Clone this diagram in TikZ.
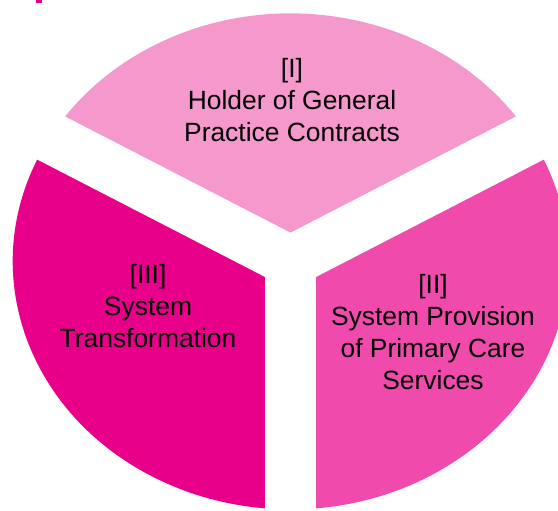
\documentclass[tikz,border=0pt]{standalone}
\usepackage{fontspec}
\setmainfont{Liberation Sans}
\usepackage{tikz}

\definecolor{holderpink}{RGB}{245,152,204}
\definecolor{transmagenta}{RGB}{232,0,138}
\definecolor{provpink}{RGB}{240,74,172}

\begin{document}
\begin{tikzpicture}[x=0.5pt, y=0.5pt,
    lbl/.style={align=center, font=\fontsize{13.2}{16}\selectfont}]
        \clip (0,0) rectangle (558,510);
        \coordinate (O) at (290.5,248.6);
        % pie of three slices, split by a white Y
        \begin{scope}[shift={(O)}, xscale=1.12]
          \fill[holderpink] (0,0) -- (30:248) arc[start angle=30, end angle=150, radius=248] -- cycle;
          \fill[transmagenta] (0,0) -- (150:248) arc[start angle=150, end angle=270, radius=248] -- cycle;
          \fill[provpink] (0,0) -- (270:248) arc[start angle=270, end angle=390, radius=248] -- cycle;
          \foreach \a in {30,150,270}
            \draw[white, line width=25.5pt, line cap=round] (0,0) -- (\a:300);
        \end{scope}
        \fill[transmagenta] (36,507) rectangle (42,510);
        \node[lbl] (holder) at (292,410) {[I]\\Holder of General\\Practice Contracts};
        \node[lbl] (transform) at (148,204) {[III]\\System\\Transformation};
        \node[lbl] (provision) at (433,178) {[II]\\System Provision\\of Primary Care\\Services};
      \end{tikzpicture}
\end{document}
